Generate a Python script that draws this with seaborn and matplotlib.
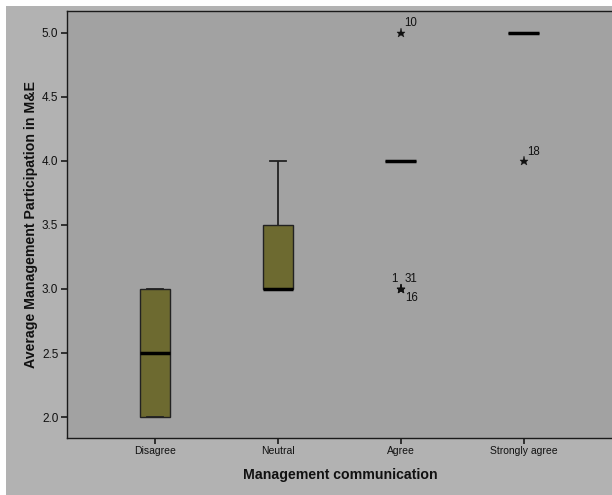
import matplotlib
matplotlib.use("Agg")
import matplotlib.pyplot as plt
from matplotlib.patches import Rectangle
import pandas as pd
import seaborn as sns

# responses per category
categories = ["Disagree", "Neutral", "Agree", "Strongly agree"]
disagree = [2, 2, 3, 3]
neutral = [3, 3, 3, 3, 3, 4, 4]
agree = [3, 3, 3, 4, 4, 4, 4, 4, 4, 4, 4, 4, 4, 4, 4, 5]
strongly_agree = [4, 5, 5, 5, 5, 5, 5]

# labelled extreme cases
outlier_group = ["Agree", "Agree", "Agree", "Agree", "Strongly agree"]
outlier_value = [5, 3, 3, 3, 4]
outlier_case = ["10", "1", "31", "16", "18"]

yticks = [2.0, 2.5, 3.0, 3.5, 4.0, 4.5, 5.0]

#build long dataframe
rows = []
for cat, vals in zip(categories, [disagree, neutral, agree, strongly_agree]):
    for v in vals:
        rows.append({"Management communication": cat, "score": v})
mydf = pd.DataFrame(rows)

plt.rcParams['font.family'] = ['Liberation Sans', 'DejaVu Sans']

fig = plt.figure(figsize=(6.12, 4.95), dpi=100)
fig.patch.set_facecolor('white')
# gray panel like the SPSS output window
fig.add_artist(Rectangle((6/612, 0), 1, 1 - 6/495, transform=fig.transFigure,
                         facecolor='#b2b2b2', edgecolor='none', zorder=-10))

ax = fig.add_axes([66.7/612, 57/495, 546.5/612, 427.3/495])
ax.set_facecolor('#a2a2a2')

sns.boxplot(data=mydf, x="Management communication", y="score", order=categories,
            color='#6d6a30', saturation=1, width=0.25, linecolor='#222222', linewidth=1,
            medianprops=dict(color='black', linewidth=2.5),
            whiskerprops=dict(color='#222222', linewidth=1.3),
            capprops=dict(color='#222222', linewidth=1.3),
            flierprops=dict(marker='*', markerfacecolor='#111111', markeredgecolor='#111111',
                            markersize=6.5, markeredgewidth=0.3),
            ax=ax)

#case number labels next to the stars
offsets = {"10": (3, 10, 'left'), "1": (-6, 10, 'center'), "31": (4, 10, 'left'),
           "16": (4, -9, 'left'), "18": (4, 9, 'left')}
for g, v, c in zip(outlier_group, outlier_value, outlier_case):
    dx, dy, ha = offsets[c]
    ax.annotate(c, (categories.index(g), v), xytext=(dx, dy), textcoords='offset pixels',
                ha=ha, va='center', fontsize=8.3, color='#111111')

ax.set_xlim(-0.72, 3.73)
ax.set_ylim(1.836, 5.174)
ax.set_yticks(yticks)
ax.set_yticklabels([f"{t:.1f}" for t in yticks])

ax.tick_params(axis='both', length=4, width=1.2, color='#1a1a1a',
               labelcolor='#111111', pad=2)
ax.tick_params(axis='x', labelsize=7.5)
ax.tick_params(axis='y', labelsize=8.5)

for side in ['left', 'bottom', 'top', 'right']:
    ax.spines[side].set_color('#1a1a1a')
    ax.spines[side].set_linewidth(1)

#labeling the axis
ax.set_xlabel('Management communication', fontsize=10.2, fontweight='bold', color='#111111')
ax.set_ylabel('Average Management Participation in M&E', fontsize=10.2, fontweight='bold',
              color='#111111')
ax.xaxis.set_label_coords(0.5, -0.07)
ax.yaxis.set_label_coords(-0.053, 0.5)

fig.savefig('out.png', dpi=100, facecolor=fig.get_facecolor())
